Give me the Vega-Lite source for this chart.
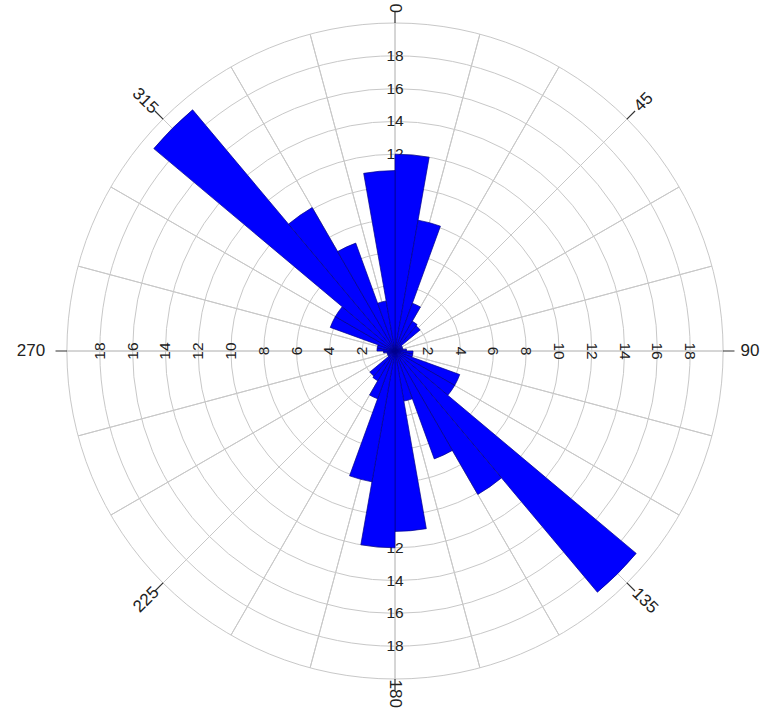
{
  "$schema": "https://vega.github.io/schema/vega-lite/v6.json",
  "width": 656,
  "height": 656,
  "autosize": {"type": "none"},
  "padding": {"left": 67, "top": 23, "right": 41, "bottom": 34},
  "background": "white",
  "config": {"view": {"stroke": null}, "font": "Liberation Sans"},
  "datasets": {
    "bins": [
      {"s": 0, "e": 10, "n": 12.0}, {"s": 10, "e": 20, "n": 8.1}, {"s": 20, "e": 30, "n": 3.1},
      {"s": 30, "e": 40, "n": 2.1}, {"s": 40, "e": 50, "n": 2.0}, {"s": 50, "e": 60, "n": 0.5},
      {"s": 60, "e": 70, "n": 0.5}, {"s": 70, "e": 80, "n": 0.5}, {"s": 80, "e": 90, "n": 0.7},
      {"s": 90, "e": 100, "n": 1.1}, {"s": 100, "e": 110, "n": 1.1}, {"s": 110, "e": 120, "n": 4.2},
      {"s": 120, "e": 130, "n": 4.2}, {"s": 130, "e": 140, "n": 19.2}, {"s": 140, "e": 150, "n": 10.1},
      {"s": 150, "e": 160, "n": 7.0}, {"s": 160, "e": 170, "n": 3.1}, {"s": 170, "e": 180, "n": 11.0},
      {"s": 180, "e": 190, "n": 12.0}, {"s": 190, "e": 200, "n": 8.1}, {"s": 200, "e": 210, "n": 3.1},
      {"s": 210, "e": 220, "n": 2.1}, {"s": 220, "e": 230, "n": 2.0}, {"s": 230, "e": 240, "n": 0.5},
      {"s": 240, "e": 250, "n": 0.5}, {"s": 250, "e": 260, "n": 0.5}, {"s": 260, "e": 270, "n": 0.7},
      {"s": 270, "e": 280, "n": 1.1}, {"s": 280, "e": 290, "n": 1.1}, {"s": 290, "e": 300, "n": 4.2},
      {"s": 300, "e": 310, "n": 4.2}, {"s": 310, "e": 320, "n": 19.2}, {"s": 320, "e": 330, "n": 10.1},
      {"s": 330, "e": 340, "n": 7.0}, {"s": 340, "e": 350, "n": 3.1}, {"s": 350, "e": 360, "n": 11.0}
    ],
    "rings": [
      {"r": 2}, {"r": 4}, {"r": 6}, {"r": 8}, {"r": 10}, {"r": 12}, {"r": 14}, {"r": 16}, {"r": 18}, {"r": 20}
    ],
    "spokes": [
      {"a": 0}, {"a": 15}, {"a": 30}, {"a": 45}, {"a": 60}, {"a": 75}, {"a": 90}, {"a": 105},
      {"a": 120}, {"a": 135}, {"a": 150}, {"a": 165}, {"a": 180}, {"a": 195}, {"a": 210}, {"a": 225},
      {"a": 240}, {"a": 255}, {"a": 270}, {"a": 285}, {"a": 300}, {"a": 315}, {"a": 330}, {"a": 345}
    ],
    "ticks": [
      {"a": 0}, {"a": 45}, {"a": 90}, {"a": 135}, {"a": 180}, {"a": 225}, {"a": 270}, {"a": 315}
    ],
    "angles": [
      {"a": 0, "t": "0"}, {"a": 45, "t": "45"}, {"a": 90, "t": "90"}, {"a": 135, "t": "135"},
      {"a": 180, "t": "180"}, {"a": 225, "t": "225"}, {"a": 270, "t": "270"}, {"a": 315, "t": "315"}
    ],
    "labels": [
      {"a": 0, "v": 2}, {"a": 0, "v": 4}, {"a": 0, "v": 6}, {"a": 0, "v": 8}, {"a": 0, "v": 10},
      {"a": 0, "v": 12}, {"a": 0, "v": 14}, {"a": 0, "v": 16}, {"a": 0, "v": 18},
      {"a": 90, "v": 2}, {"a": 90, "v": 4}, {"a": 90, "v": 6}, {"a": 90, "v": 8}, {"a": 90, "v": 10},
      {"a": 90, "v": 12}, {"a": 90, "v": 14}, {"a": 90, "v": 16}, {"a": 90, "v": 18},
      {"a": 180, "v": 2}, {"a": 180, "v": 4}, {"a": 180, "v": 6}, {"a": 180, "v": 8}, {"a": 180, "v": 10},
      {"a": 180, "v": 12}, {"a": 180, "v": 14}, {"a": 180, "v": 16}, {"a": 180, "v": 18},
      {"a": 270, "v": 2}, {"a": 270, "v": 4}, {"a": 270, "v": 6}, {"a": 270, "v": 8}, {"a": 270, "v": 10},
      {"a": 270, "v": 12}, {"a": 270, "v": 14}, {"a": 270, "v": 16}, {"a": 270, "v": 18}
    ]
  },
  "layer": [
    {
      "data": {"name": "rings"},
      "mark": {"type": "arc", "fillOpacity": 0, "stroke": "#c8c8c8", "strokeWidth": 1},
      "encoding": {
        "theta": {"datum": 0, "type": "quantitative", "scale": {"type": "linear", "domain": [0, 360], "range": [0, 6.283185307179586]}},
        "theta2": {"datum": 360},
        "radius": {"field": "r", "type": "quantitative", "stack": null, "scale": {"type": "linear", "domain": [0, 20], "range": [0, 328], "zero": true}}
      }
    },
    {
      "data": {"name": "spokes"},
      "mark": {"type": "arc", "fillOpacity": 0, "stroke": "#c8c8c8", "strokeWidth": 1},
      "encoding": {
        "theta": {"field": "a", "type": "quantitative", "stack": null, "scale": {"type": "linear", "domain": [0, 360], "range": [0, 6.283185307179586]}},
        "theta2": {"field": "a"},
        "radius": {"datum": 20, "type": "quantitative", "scale": {"type": "linear", "domain": [0, 20], "range": [0, 328], "zero": true}}
      }
    },
    {
      "data": {"name": "labels"},
      "transform": [{"filter": "datum.a == 0 || datum.a == 180"}],
      "mark": {"type": "text", "fontSize": 15.5, "fill": "#222", "align": "center", "baseline": "middle", "angle": 0},
      "encoding": {
        "theta": {"field": "a", "type": "quantitative", "stack": null, "scale": {"type": "linear", "domain": [0, 360], "range": [0, 6.283185307179586]}},
        "radius": {"field": "v", "type": "quantitative", "stack": null, "scale": {"type": "linear", "domain": [0, 20], "range": [0, 328], "zero": true}},
        "text": {"field": "v", "type": "quantitative"}
      }
    },
    {
      "data": {"name": "labels"},
      "transform": [{"filter": "datum.a == 90"}],
      "mark": {"type": "text", "fontSize": 15.5, "fill": "#222", "align": "center", "baseline": "middle", "angle": 90},
      "encoding": {
        "theta": {"field": "a", "type": "quantitative", "stack": null, "scale": {"type": "linear", "domain": [0, 360], "range": [0, 6.283185307179586]}},
        "radius": {"field": "v", "type": "quantitative", "stack": null, "scale": {"type": "linear", "domain": [0, 20], "range": [0, 328], "zero": true}},
        "text": {"field": "v", "type": "quantitative"}
      }
    },
    {
      "data": {"name": "labels"},
      "transform": [{"filter": "datum.a == 270"}],
      "mark": {"type": "text", "fontSize": 15.5, "fill": "#222", "align": "center", "baseline": "middle", "angle": 270},
      "encoding": {
        "theta": {"field": "a", "type": "quantitative", "stack": null, "scale": {"type": "linear", "domain": [0, 360], "range": [0, 6.283185307179586]}},
        "radius": {"field": "v", "type": "quantitative", "stack": null, "scale": {"type": "linear", "domain": [0, 20], "range": [0, 328], "zero": true}},
        "text": {"field": "v", "type": "quantitative"}
      }
    },
    {
      "data": {"name": "bins"},
      "mark": {"type": "arc", "fill": "#0000fe", "stroke": "#00008a", "strokeWidth": 0.7},
      "encoding": {
        "theta": {"field": "s", "type": "quantitative", "stack": null, "scale": {"type": "linear", "domain": [0, 360], "range": [0, 6.283185307179586]}},
        "theta2": {"field": "e"},
        "radius": {"field": "n", "type": "quantitative", "stack": null, "scale": {"type": "linear", "domain": [0, 20], "range": [0, 328], "zero": true}}
      }
    },
    {
      "data": {"name": "ticks"},
      "mark": {"type": "arc", "fillOpacity": 0, "stroke": "#333", "strokeWidth": 1.2},
      "encoding": {
        "theta": {"field": "a", "type": "quantitative", "stack": null, "scale": {"type": "linear", "domain": [0, 360], "range": [0, 6.283185307179586]}},
        "theta2": {"field": "a"},
        "radius": {"datum": 20.7, "type": "quantitative", "scale": {"type": "linear", "domain": [0, 20], "range": [0, 328], "zero": true}},
        "radius2": {"datum": 20}
      }
    },
    {
      "data": {"name": "angles"},
      "transform": [{"filter": "datum.a == 0 || datum.a == 180"}],
      "mark": {"type": "text", "fontSize": 17, "fill": "#222", "align": "center", "baseline": "middle", "angle": 90},
      "encoding": {
        "theta": {"field": "a", "type": "quantitative", "stack": null, "scale": {"type": "linear", "domain": [0, 360], "range": [0, 6.283185307179586]}},
        "radius": {"datum": 20.9, "type": "quantitative", "scale": {"type": "linear", "domain": [0, 20], "range": [0, 328], "zero": true}},
        "text": {"field": "t", "type": "nominal"}
      }
    },
    {
      "data": {"name": "angles"},
      "transform": [{"filter": "datum.a == 90"}],
      "mark": {"type": "text", "fontSize": 17, "fill": "#222", "align": "center", "baseline": "middle", "angle": 0},
      "encoding": {
        "theta": {"field": "a", "type": "quantitative", "stack": null, "scale": {"type": "linear", "domain": [0, 360], "range": [0, 6.283185307179586]}},
        "radius": {"datum": 21.65, "type": "quantitative", "scale": {"type": "linear", "domain": [0, 20], "range": [0, 328], "zero": true}},
        "text": {"field": "t", "type": "nominal"}
      }
    },
    {
      "data": {"name": "angles"},
      "transform": [{"filter": "datum.a == 270"}],
      "mark": {"type": "text", "fontSize": 17, "fill": "#222", "align": "center", "baseline": "middle", "angle": 0},
      "encoding": {
        "theta": {"field": "a", "type": "quantitative", "stack": null, "scale": {"type": "linear", "domain": [0, 360], "range": [0, 6.283185307179586]}},
        "radius": {"datum": 22.2, "type": "quantitative", "scale": {"type": "linear", "domain": [0, 20], "range": [0, 328], "zero": true}},
        "text": {"field": "t", "type": "nominal"}
      }
    },
    {
      "data": {"name": "angles"},
      "transform": [{"filter": "datum.a == 45 || datum.a == 225"}],
      "mark": {"type": "text", "fontSize": 17, "fill": "#222", "align": "center", "baseline": "middle", "angle": 315},
      "encoding": {
        "theta": {"field": "a", "type": "quantitative", "stack": null, "scale": {"type": "linear", "domain": [0, 360], "range": [0, 6.283185307179586]}},
        "radius": {"datum": 21.45, "type": "quantitative", "scale": {"type": "linear", "domain": [0, 20], "range": [0, 328], "zero": true}},
        "text": {"field": "t", "type": "nominal"}
      }
    },
    {
      "data": {"name": "angles"},
      "transform": [{"filter": "datum.a == 135 || datum.a == 315"}],
      "mark": {"type": "text", "fontSize": 17, "fill": "#222", "align": "center", "baseline": "middle", "angle": 45},
      "encoding": {
        "theta": {"field": "a", "type": "quantitative", "stack": null, "scale": {"type": "linear", "domain": [0, 360], "range": [0, 6.283185307179586]}},
        "radius": {"datum": 21.55, "type": "quantitative", "scale": {"type": "linear", "domain": [0, 20], "range": [0, 328], "zero": true}},
        "text": {"field": "t", "type": "nominal"}
      }
    }
  ]
}
